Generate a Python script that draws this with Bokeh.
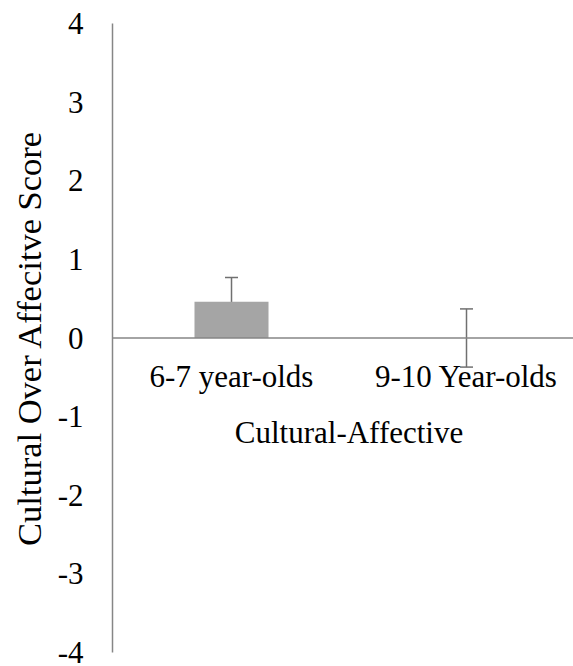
from bokeh.plotting import figure
from bokeh.models import (Range1d, LinearAxis, FixedTicker, Span, Whisker, TeeHead,
                          ColumnDataSource, Label)
from bokeh.core.properties import value
from bokeh.embed import file_html
from bokeh.resources import INLINE

# ---- data ----
categories = ["6-7 year-olds", "9-10 Year-olds"]
scores = [0.46, 0.0]
errors = [0.31, 0.37]
y_ticks = [-4, -3, -2, -1, 0, 1, 2, 3, 4]
y_tick_labels = ["-4", "-3", "-2", "-1", "0", "1", "2", "3", "4"]
y_title = "Cultural Over Affecitve Score"
x_title = "Cultural-Affective"

FONT = "Liberation Serif"
AXIS_GREY = "#868686"

xs = [i + 0.5 for i in range(len(categories))]
src = ColumnDataSource(dict(
    x=xs, top=scores,
    upper=[s + e for s, e in zip(scores, errors)],
    lower=[s - e for s, e in zip(scores, errors)],
    label=categories, zero=[0] * len(categories),
))

p = figure(width=573, height=666, output_backend="svg", toolbar_location=None,
           x_range=Range1d(-0.0064, 1.9553), y_range=Range1d(-4, 4),
           x_axis_location=None, y_axis_location=None,
           min_border_left=112, min_border_top=23, min_border_right=0,
           min_border_bottom=14)
p.outline_line_color = None
p.xgrid.visible = False
p.ygrid.visible = False
p.background_fill_color = "white"
p.border_fill_color = "white"

yaxis = LinearAxis(ticker=FixedTicker(ticks=y_ticks))
yaxis.major_label_overrides = dict(zip(y_ticks, y_tick_labels))
yaxis.axis_line_color = AXIS_GREY
yaxis.axis_line_width = 1.5
yaxis.major_tick_line_color = None
yaxis.minor_tick_line_color = None
yaxis.major_tick_in = 0
yaxis.major_tick_out = 0
yaxis.major_label_standoff = 29
yaxis.major_label_text_font = FONT
yaxis.major_label_text_font_size = "31px"
yaxis.major_label_text_color = "black"
yaxis.axis_label = y_title
yaxis.axis_label_text_font = FONT
yaxis.axis_label_text_font_size = "34.5px"
yaxis.axis_label_text_font_style = "normal"
yaxis.axis_label_text_color = "black"
yaxis.axis_label_standoff = 7
p.add_layout(yaxis, "left")

p.vbar(x="x", top="top", bottom=0, width=0.315, source=src,
       fill_color="#A5A5A5", line_color=None)

p.add_layout(Span(location=0, dimension="width", line_color=AXIS_GREY, line_width=1.5))

w = Whisker(base="x", upper="upper", lower="lower", source=src,
            line_color="#707070", line_width=1.5,
            upper_head=TeeHead(size=13, line_color="#707070", line_width=1.5),
            lower_head=TeeHead(size=13, line_color="#707070", line_width=1.5))
p.add_layout(w)

p.text(x="x", y="zero", text="label", source=src, text_align="center",
       text_baseline="alphabetic", y_offset=38, text_font=value(FONT),
       text_font_size="31px", text_color="black")

p.add_layout(Label(x=sum(xs) / len(xs), y=0, text=x_title, text_align="center",
                   text_baseline="alphabetic", y_offset=-94,
                   text_font=FONT, text_font_size="31px", text_color="black"))

open("out.html", "w").write(file_html(p, INLINE))
